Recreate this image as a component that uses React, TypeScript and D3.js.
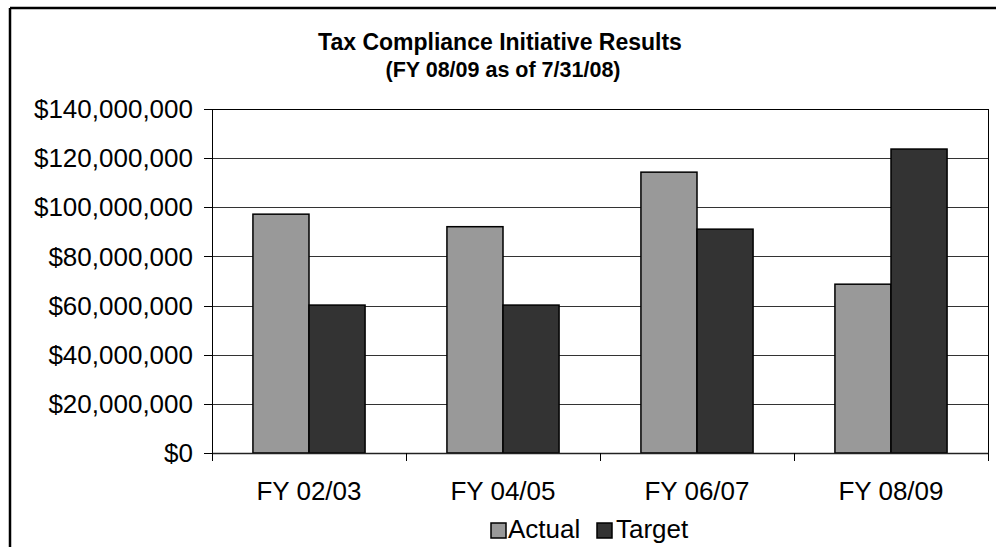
import React from "react";
import * as d3 from "d3";

const categories = ["FY 02/03", "FY 04/05", "FY 06/07", "FY 08/09"];
const actualValues = [97200000, 92100000, 114300000, 68700000];
const targetValues = [60200000, 60200000, 91100000, 123700000];
const seriesNames = ["Actual", "Target"];
const yTicks = [0, 20000000, 40000000, 60000000, 80000000, 100000000, 120000000, 140000000];
const titleText = "Tax Compliance Initiative Results";
const subtitleText = "(FY 08/09 as of 7/31/08)";

const W = 996;
const H = 547;
const plot = { left: 212, right: 988, top: 109, bottom: 453 };
const colors = ["#999999", "#333333"];
const FONT = "'Liberation Sans', Arial, sans-serif";

export default function App() {
  const x = d3.scaleBand<string>().domain(categories).range([plot.left, plot.right]).paddingInner(0).paddingOuter(0);
  const inner = d3
    .scaleBand<string>()
    .domain(seriesNames)
    .range([0, x.bandwidth()])
    .paddingOuter(0.73)
    .paddingInner(0);
  const y = d3.scaleLinear().domain([0, 140000000]).range([plot.bottom, plot.top]);
  const fmt = (v: number) => "$" + d3.format(",")(v);
  const series = [actualValues, targetValues];
  const boundaries = categories.map((c) => x(c) as number).concat([plot.right]);

  return (
    <div style={{ position: "absolute", left: 0, top: 0 }}>
      <svg width={W} height={H} style={{ display: "block", fontFamily: FONT }}>
        <rect x={0} y={0} width={W} height={H} fill="#fff" />
        {/* outer frame */}
        <line x1={10} y1={8} x2={W} y2={8} stroke="#000" strokeWidth={2.5} />
        <line x1={10} y1={8} x2={10} y2={H} stroke="#000" strokeWidth={2.5} />

        {/* title */}
        <text x={500} y={50} textAnchor="middle" fontWeight="bold" fontSize={23} fill="#000">
          {titleText}
        </text>
        <text x={503} y={77} textAnchor="middle" fontWeight="bold" fontSize={21.5} fill="#000">
          {subtitleText}
        </text>

        {/* gridlines */}
        {yTicks.map((t) => (
          <line
            key={"g" + t}
            x1={plot.left}
            x2={plot.right}
            y1={Math.round(y(t)) + 0.5}
            y2={Math.round(y(t)) + 0.5}
            stroke={t === 140000000 ? "#000" : "#333"}
            strokeWidth={1}
          />
        ))}
        {/* right border of plot */}
        <line x1={plot.right + 0.5} x2={plot.right + 0.5} y1={plot.top} y2={plot.bottom} stroke="#000" strokeWidth={1} />

        {/* bars */}
        {categories.map((c, i) => (
          <g key={c} transform={`translate(${x(c)},0)`}>
            {seriesNames.map((s, j) => (
              <rect
                key={s}
                x={inner(s) as number}
                y={y(series[j][i])}
                width={inner.bandwidth()}
                height={y(0) - y(series[j][i])}
                fill={colors[j]}
                stroke="#000"
                strokeWidth={1.5}
              />
            ))}
          </g>
        ))}

        {/* y axis */}
        <line x1={plot.left + 0.5} x2={plot.left + 0.5} y1={plot.top} y2={plot.bottom} stroke="#000" strokeWidth={1} />
        {yTicks.map((t) => (
          <g key={"t" + t}>
            <line x1={plot.left - 8} x2={plot.left} y1={Math.round(y(t)) + 0.5} y2={Math.round(y(t)) + 0.5} stroke="#000" />
            <text x={193} y={y(t)} dy="0.35em" textAnchor="end" fontSize={26} fill="#000">
              {fmt(t)}
            </text>
          </g>
        ))}

        {/* x axis */}
        <line x1={plot.left} x2={plot.right + 1} y1={plot.bottom + 0.5} y2={plot.bottom + 0.5} stroke="#222" strokeWidth={1.5} />
        {boundaries.map((b, i) => (
          <line key={"xb" + i} x1={b + 0.5} x2={b + 0.5} y1={plot.bottom} y2={plot.bottom + 8} stroke="#000" />
        ))}
        {categories.map((c) => (
          <text key={"xl" + c} x={(x(c) as number) + x.bandwidth() / 2} y={500} textAnchor="middle" fontSize={26} fill="#000">
            {c}
          </text>
        ))}

        {/* legend */}
        <g>
          <rect x={491} y={523} width={15} height={15} fill={colors[0]} stroke="#000" strokeWidth={1.5} />
          <text x={508} y={538} fontSize={26} fill="#000">{seriesNames[0]}</text>
          <rect x={597} y={523} width={15} height={15} fill={colors[1]} stroke="#000" strokeWidth={1.5} />
          <text x={616} y={538} fontSize={26} fill="#000">{seriesNames[1]}</text>
        </g>
      </svg>
    </div>
  );
}
